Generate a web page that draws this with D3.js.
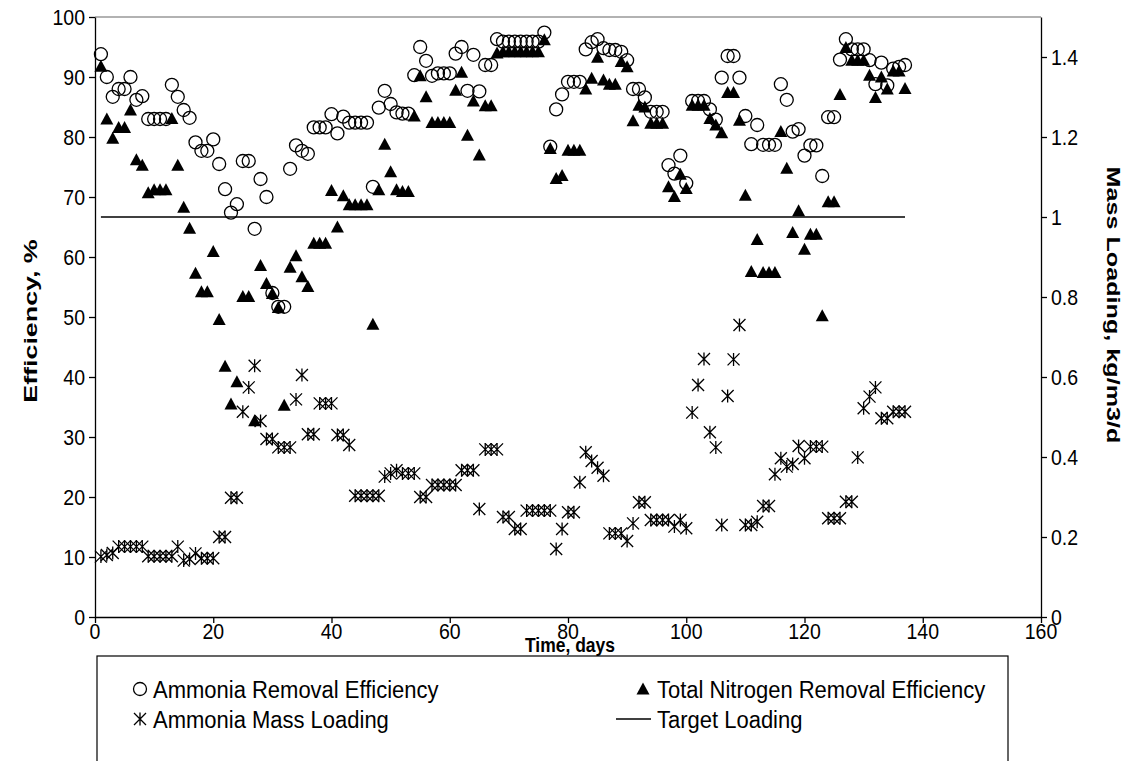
<!DOCTYPE html>
<html><head><meta charset="utf-8">
<script src="https://cdn.jsdelivr.net/npm/d3@7"></script>
<style>
html,body{margin:0;padding:0;background:#fff;}
svg text{font-family:"Liberation Sans",Arial,sans-serif;}
</style></head>
<body>
<svg id="chart" width="1126" height="761"></svg>
<script>
// ---- data (day 1 .. 137) ----
const firstDay = 1;
const ammoniaRemoval = [93.8,90,86.7,88,88,90,86.2,86.8,83,83,83,83,88.7,86.7,84.5,83.2,79.1,77.7,77.7,79.6,
75.5,71.3,67.4,68.8,76,76,64.7,73,70,54,51.7,51.7,74.7,78.6,77.7,77.2,81.6,81.6,81.6,83.8,
80.6,83.4,82.4,82.4,82.4,82.4,71.7,84.9,87.7,85.5,84.1,83.9,83.9,90.3,95,92.7,90.2,90.6,90.6,90.6,
93.9,95,87.7,93.7,87.6,92,92,96.3,95.9,95.9,95.9,95.9,95.9,95.9,95.9,97.4,78.4,84.6,87.1,89.2,
89.2,89.2,94.6,95.8,96.3,94.8,94.5,94.5,94.2,92.8,88,88,86.6,84.2,84.2,84.2,75.3,73.9,76.9,72.3,
86,86,86,84.6,82.9,89.9,93.5,93.5,89.9,83.5,78.8,82,78.7,78.7,78.7,88.8,86.2,80.9,81.3,76.9,
78.6,78.6,73.5,83.3,83.3,92.9,96.3,94.6,94.6,94.6,92.8,88.8,92.4,88.6,91.4,91.7,92];
const totalNitrogen = [91.8,83,79.8,81.6,81.6,84.5,76.2,75.3,70.7,71.2,71.2,71.2,83.1,75.3,68.3,64.8,57.3,54.2,54.2,60.9,
49.6,41.8,35.5,39.2,53.4,53.4,32.7,58.6,55.6,53.9,51.6,35.3,58.3,60.2,56.7,55.1,62.3,62.3,62.3,71.1,
65,70.2,68.7,68.7,68.7,68.7,48.8,71.2,78.8,74.2,71.2,70.9,70.9,83.5,90.2,86.7,82.4,82.4,82.4,82.4,
87.8,90.8,80.3,86,77,85.2,85.2,94,94.2,94.2,94.2,94.2,94.2,94.2,94.2,96.2,78.1,73.1,73.6,77.8,
77.8,77.8,88,89.8,93.3,89.5,88.8,88.8,92.6,91.7,82.7,85.3,85,82.3,82.3,82.3,71.7,70.1,73.8,71.4,
85.3,85.3,85.3,83.1,82,80.7,87.4,87.4,82.8,70.3,57.6,62.9,57.4,57.4,57.4,80.9,74.8,64.1,67.7,61.3,
63.8,63.8,50.2,69.2,69.2,87.1,94.9,92.8,92.8,92.8,90.3,86.6,90,88,91,91,88.1];
const massLoading = [0.151,0.155,0.16,0.176,0.176,0.176,0.176,0.176,0.152,0.152,0.152,0.152,0.152,0.176,0.141,0.145,0.159,0.147,0.147,0.147,
0.2,0.2,0.298,0.298,0.513,0.574,0.628,0.49,0.445,0.445,0.424,0.424,0.424,0.544,0.605,0.457,0.457,0.534,0.534,0.534,
0.455,0.455,0.43,0.303,0.303,0.303,0.303,0.303,0.351,0.359,0.367,0.359,0.359,0.359,0.3,0.3,0.33,0.33,0.33,0.33,
0.33,0.367,0.367,0.367,0.27,0.419,0.419,0.419,0.25,0.25,0.22,0.22,0.266,0.266,0.266,0.266,0.266,0.17,0.22,0.262,
0.262,0.337,0.412,0.39,0.373,0.353,0.209,0.209,0.209,0.19,0.234,0.287,0.287,0.2425,0.2425,0.2425,0.2425,0.226,0.2425,0.222,
0.511,0.58,0.645,0.462,0.424,0.23,0.5525,0.644,0.73,0.23,0.23,0.238,0.2775,0.2775,0.357,0.397,0.376,0.3825,0.4275,0.397,
0.426,0.426,0.426,0.247,0.247,0.247,0.288,0.288,0.399,0.522,0.551,0.574,0.497,0.497,0.513,0.513,0.513];
const targetLoading = 1.0;
const targetDays = [1, 137];
const xTicks = [0,20,40,60,80,100,120,140,160];
const yLeftTicks = [0,10,20,30,40,50,60,70,80,90,100];
const yRightTicks = [0,0.2,0.4,0.6,0.8,1,1.2,1.4];
const legendLabels = ["Ammonia Removal Efficiency","Total Nitrogen Removal Efficiency","Ammonia Mass Loading","Target Loading"];

// ---- layout ----
const L = 95, R = 1041, T = 17, B = 617;
const svg = d3.select("#chart");
const x = d3.scaleLinear().domain([0,160]).range([L,R]);
const yL = d3.scaleLinear().domain([0,100]).range([B,T]);
const yR = d3.scaleLinear().domain([0,1.5]).range([B,T]);
const day = i => firstDay + i;

function label(g, px, py, txt, o){
  o = o || {};
  const rot = o.rotate || 0;
  const s = o.stretch || 1.15;
  const sc = rot ? `scale(${s},1)` : `scale(1,${s})`;
  return g.append("text")
    .attr("transform",`translate(${px},${py}) rotate(${rot}) ${sc}`)
    .attr("text-anchor",o.anchor||"start").attr("dy","0.36em")
    .attr("font-size",o.size||18).attr("font-weight",o.bold?"bold":"normal")
    .attr("fill","#000").text(txt);
}

// top plot border (gray)
svg.append("line").attr("x1",L).attr("x2",R).attr("y1",T).attr("y2",T)
  .attr("stroke","#999").attr("stroke-width",1.5);

function styleAxis(g){
  g.selectAll("path.domain").attr("stroke","#000").attr("stroke-width",1.3);
  g.selectAll(".tick line").attr("stroke","#000").attr("stroke-width",1.3);
  g.selectAll(".tick text").remove();
}
const gx = svg.append("g").attr("transform",`translate(0,${B})`)
  .call(d3.axisBottom(x).tickValues(xTicks).tickSize(6).tickSizeOuter(0));
styleAxis(gx);
const gl = svg.append("g").attr("transform",`translate(${L},0)`)
  .call(d3.axisLeft(yL).tickValues(yLeftTicks).tickSize(6).tickSizeOuter(0));
styleAxis(gl);
const gr = svg.append("g").attr("transform",`translate(${R},0)`)
  .call(d3.axisRight(yR).tickValues(yRightTicks).tickSize(6).tickSizeOuter(0));
styleAxis(gr);

const tl = svg.append("g");
xTicks.forEach(v=>label(tl, x(v), 631, String(v), {anchor:"middle", size:19.5}));
yLeftTicks.forEach(v=>label(tl, 85, yL(v), String(v), {anchor:"end", size:19.5}));
yRightTicks.forEach(v=>label(tl, 1051, yR(v), String(+v.toFixed(1)), {anchor:"start", size:19.5}));

// markers
const triPath = "M0,-6.5L6.5,5.5L-6.5,5.5Z";
const starPath = "M-6,-6L6,6M-6,6L6,-6M0,-6.5L0,6.5";

svg.append("g").selectAll("circle").data(ammoniaRemoval).join("circle")
  .attr("cx",(d,i)=>x(day(i))).attr("cy",d=>yL(d)).attr("r",6.5)
  .attr("fill","none").attr("stroke","#000").attr("stroke-width",1.3);

svg.append("g").selectAll("path").data(totalNitrogen).join("path")
  .attr("d",triPath).attr("transform",(d,i)=>`translate(${x(day(i))},${yL(d)})`)
  .attr("fill","#000");

svg.append("g").selectAll("path").data(massLoading).join("path")
  .attr("d",starPath).attr("transform",(d,i)=>`translate(${x(day(i))},${yR(d)})`)
  .attr("fill","none").attr("stroke","#000").attr("stroke-width",1.3);

// target line
svg.append("line").attr("x1",x(targetDays[0])).attr("x2",x(targetDays[1]))
  .attr("y1",yR(targetLoading)).attr("y2",yR(targetLoading))
  .attr("stroke","#000").attr("stroke-width",1.6);

// legend
const lg = svg.append("g");
lg.append("rect").attr("x",97).attr("y",656).attr("width",911).attr("height",120)
  .attr("fill","#fff").attr("stroke","#000").attr("stroke-width",1.2);
const rows = [[140,689],[643,689],[140,719],[633,719]];
lg.append("circle").attr("cx",rows[0][0]).attr("cy",rows[0][1]).attr("r",6.5)
  .attr("fill","none").attr("stroke","#000").attr("stroke-width",1.3);
lg.append("path").attr("d",triPath).attr("transform",`translate(${rows[1][0]},${rows[1][1]})`).attr("fill","#000");
lg.append("path").attr("d",starPath).attr("transform",`translate(${rows[2][0]},${rows[2][1]})`)
  .attr("fill","none").attr("stroke","#000").attr("stroke-width",1.3);
lg.append("line").attr("x1",616).attr("x2",651).attr("y1",rows[3][1]).attr("y2",rows[3][1])
  .attr("stroke","#000").attr("stroke-width",1.6);
const textX = [153,657,153,657];
legendLabels.forEach((t,i)=>label(lg, textX[i], rows[i][1], t, {size:22, stretch:1.1}));

// axis titles (drawn last so they stay on top)
label(svg, 570, 645, "Time, days", {anchor:"middle", size:17.5, bold:true, stretch:1.15});
label(svg, 30, 321, "Efficiency, %", {anchor:"middle", size:18.5, bold:true, rotate:-90, stretch:1.45});
label(svg, 1113, 305, "Mass Loading, kg/m3/d", {anchor:"middle", size:18, bold:true, rotate:90, stretch:1.4});
</script>
</body></html>
